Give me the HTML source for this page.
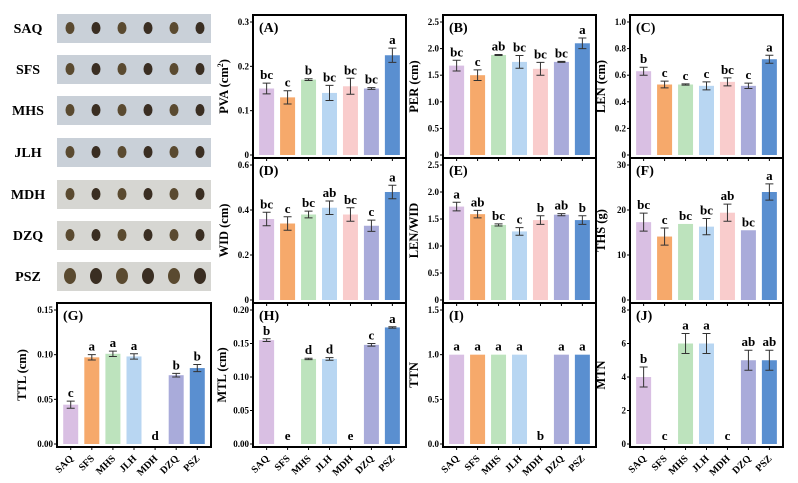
<!DOCTYPE html>
<html><head><meta charset="utf-8"><style>
body{margin:0;background:#fff;width:798px;height:483px;overflow:hidden}
svg{display:block;font-family:"Liberation Serif",serif;font-weight:bold}
</style></head><body>
<svg id="c" width="798" height="483">
<g id="photos"></g>
</svg>
<script>
const categories=["SAQ","SFS","MHS","JLH","MDH","DZQ","PSZ"];
const colors=["#d9bfe3","#f6a96b","#bde3bd","#b8d6f2","#f9cccc","#a9abda","#5a8fd0"];
const valsA=[0.15,0.13,0.17,0.14,0.155,0.15,0.225];
const errA=[0.012,0.015,0.002,0.017,0.018,0.002,0.016];
const letA=["bc","c","b","bc","bc","bc","a"];
const valsB=[1.68,1.5,1.88,1.75,1.62,1.75,2.1];
const errB=[0.1,0.1,0.01,0.12,0.12,0.01,0.1];
const letB=["bc","c","ab","bc","bc","bc","a"];
const valsC=[0.63,0.53,0.53,0.52,0.55,0.52,0.72];
const errC=[0.03,0.025,0.005,0.03,0.03,0.02,0.03];
const letC=["b","c","c","c","bc","c","a"];
const valsD=[0.36,0.34,0.38,0.41,0.38,0.33,0.48];
const errD=[0.03,0.03,0.015,0.03,0.03,0.025,0.03];
const letD=["bc","c","bc","ab","bc","c","a"];
const valsE=[1.73,1.59,1.39,1.27,1.48,1.58,1.48];
const errE=[0.08,0.07,0.02,0.07,0.08,0.02,0.08];
const letE=["a","ab","bc","c","b","ab","b"];
const valsF=[17.3,14.1,16.9,16.3,19.4,15.5,24];
const errF=[2,1.9,0,1.8,1.9,0,1.8];
const letF=["bc","c","bc","bc","ab","bc","a"];
const valsG=[0.044,0.097,0.101,0.098,0,0.077,0.085];
const errG=[0.004,0.003,0.003,0.003,0,0.002,0.004];
const letG=["c","a","a","a","d","b","b"];
const valsH=[0.155,0,0.127,0.127,0,0.148,0.174];
const errH=[0.002,0,0.001,0.002,0,0.002,0.001];
const letH=["b","e","d","d","e","c","a"];
const valsI=[1,1,1,1,0,1,1];
const errI=[0,0,0,0,0,0,0];
const letI=["a","a","a","a","b","a","a"];
const valsJ=[4,0,6,6,0,5,5];
const errJ=[0.6,0,0.6,0.6,0,0.6,0.6];
const letJ=["b","c","a","a","c","ab","ab"];
const ticksA=["0","0.1","0.2","0.3"],ticksB=["0","0.5","1.0","1.5","2.0","2.5"],ticksC=["0","0.2","0.4","0.6","0.8","1.0"];
const ticksD=["0","0.2","0.4","0.6"],ticksE=["0","0.5","1.0","1.5","2.0","2.5"],ticksF=["0","10","20","30"];
const ticksG=["0.00","0.05","0.10","0.15"],ticksH=["0.00","0.05","0.10","0.15","0.20"],ticksI=["0.0","0.5","1.0","1.5"],ticksJ=["0","2","4","6","8"];
const NS="http://www.w3.org/2000/svg";
const svg=document.getElementById('c');
function mk(t,a,p){const e=document.createElementNS(NS,t);for(const k in a)e.setAttribute(k,a[k]);(p||svg).appendChild(e);return e;}
const ph=document.getElementById('photos');
const rowsY=[14,55,96,138,180,221,262];
categories.forEach((c,i)=>{
  const r=mk('rect',{x:57,y:rowsY[i],width:154,height:29,fill:i>=4?'#d6d6d2':'#c9d0d8'},ph);
  
  
  for(let k=0;k<6;k++){
    const s=mk('ellipse',{cx:70+k*26,cy:rowsY[i]+14,rx:i==6?6:4.5,ry:i==6?8:6,fill:k%2?'#3a2e22':'#5a4a30'},ph);
    
    
  }
  const t=mk('text',{x:28,y:rowsY[i]+19,'text-anchor':'middle','font-size':14},ph);t.textContent=c;
  
  
});
function panel(id,x0,x1,y0,y1,max,ticks,vals,errs,lets,ylab,xlabels,off){
  const g=mk('g',{});
  
  
  const top=y0+7, bot=y1-3;
  const ys=v=>bot-(v/max)*(bot-top);
  const step=(x1-x0)/7.3, bw=15;
  const xs=i=>x0+step*0.65+i*step;
  ticks.forEach((t,i)=>{const v=max*i/(ticks.length-1);const y=ys(v);
    mk('line',{x1:x0-3,x2:x0,y1:y,y2:y,stroke:'#000','stroke-width':1},g);
    const tx=mk('text',{x:x0-4,y:y+3,'text-anchor':'end','font-size':9},g);tx.textContent=t;
    
    });
  vals.forEach((v,i)=>{const x=xs(i);
    const b=mk('rect',{x:x-bw/2,y:ys(v),width:bw,height:Math.max(0,ys(0)-ys(v)),fill:colors[i]},g);
    
    
    const e=errs[i];
    if(e>0){mk('path',{d:`M${x},${ys(v+e)}V${ys(v-e)}M${x-4},${ys(v+e)}h8M${x-4},${ys(v-e)}h8`,stroke:'#333','stroke-width':1,fill:'none'},g);}
    const l=mk('text',{x:x,y:ys(v+e)-4,'text-anchor':'middle','font-size':13},g);l.textContent=lets[i];
    
    
    mk('line',{x1:x,x2:x,y1:y1,y2:y1+3,stroke:'#000'},g);
    if(xlabels){const tl=mk('text',{x:x+3,y:y1+12,'text-anchor':'end','font-size':10,transform:`rotate(-45 ${x+3} ${y1+12})`},g);tl.textContent=categories[i];
      
      }
  });
  const fr=mk('rect',{x:x0,y:y0,width:x1-x0,height:y1-y0,fill:'none',stroke:'#000','stroke-width':2},g);
  
  
  const pl=mk('text',{x:x0+6,y:y0+17,'font-size':14},g);pl.textContent='('+id+')';
  
  
  const yl=mk('text',{x:0,y:0,'text-anchor':'middle','font-size':12.5,transform:`translate(${x0-(off||25)},${(y0+y1)/2}) rotate(-90)`},g);
  yl.innerHTML=ylab;
  
  
}
const C1=[253,406],C2=[443,596],C3=[630,783],C0=[57,211];
const R1=[15,158],R2=[158,303],R3=[303,447];
panel('A',...C1,...R1,0.3,ticksA,valsA,errA,letA,'PVA (cm<tspan dy="-5" font-size="8">2</tspan><tspan dy="5">)</tspan>');
panel('B',...C2,...R1,2.5,ticksB,valsB,errB,letB,'PER (cm)');
panel('C',...C3,...R1,1.0,ticksC,valsC,errC,letC,'LEN (cm)');
panel('D',...C1,...R2,0.6,ticksD,valsD,errD,letD,'WID (cm)');
panel('E',...C2,...R2,2.5,ticksE,valsE,errE,letE,'LEN/WID');
panel('F',...C3,...R2,30,ticksF,valsF,errF,letF,'THS (g)');
panel('G',...C0,...R3,0.15,ticksG,valsG,errG,letG,'TTL (cm)',true,31);
panel('H',...C1,...R3,0.20,ticksH,valsH,errH,letH,'MTL (cm)',true,27);
panel('I',...C2,...R3,1.5,ticksI,valsI,errI,letI,'TTN',true);
panel('J',...C3,...R3,8,ticksJ,valsJ,errJ,letJ,'MTN',true);
</script>
</body></html>
